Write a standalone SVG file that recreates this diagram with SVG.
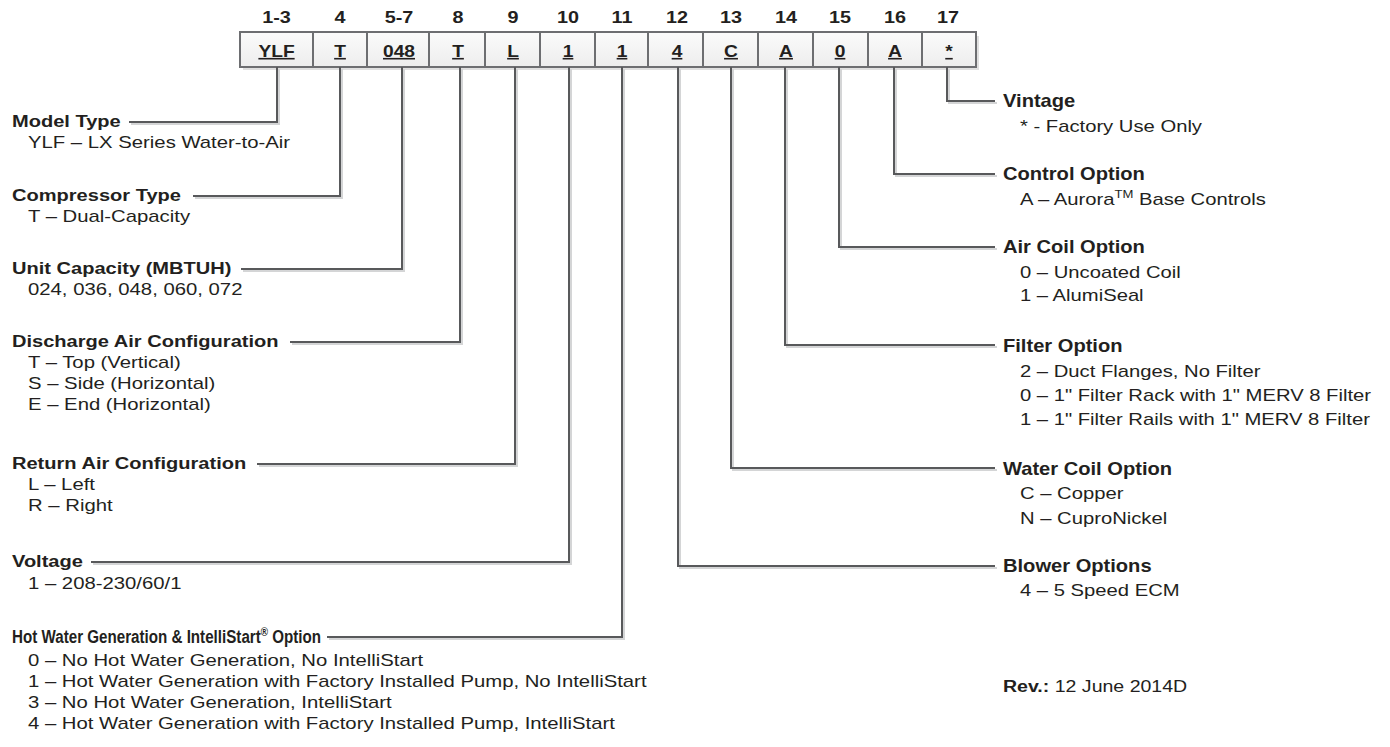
<svg xmlns="http://www.w3.org/2000/svg" width="1390" height="747" viewBox="0 0 1390 747">
<defs>
<linearGradient id="cellFill" x1="0" y1="0" x2="0" y2="1">
<stop offset="0" stop-color="#fbfbfb"/>
<stop offset="1" stop-color="#ededed"/>
</linearGradient>
<style>
text { fill: #231f20; font-family: "Liberation Sans", Arial, sans-serif; }
.hn { font-weight: bold; font-size: 16.5px; text-anchor: middle; }
.cv { font-weight: bold; font-size: 16px; text-anchor: middle; text-decoration: underline; }
.lh { font-weight: bold; font-size: 17px; }
.ld { font-size: 16px; }
.rh { font-weight: bold; font-size: 17.5px; }
.rd { font-size: 17px; }
.cell { fill: url(#cellFill); stroke: #6d6e71; stroke-width: 2; }
.conn { fill: none; stroke: #58595b; stroke-width: 2; }
.shadow { fill: none; stroke: #d4d5d6; stroke-width: 2; }
</style>
</defs>
<rect width="1390" height="747" fill="#ffffff"/>

<!-- box shadow -->
<rect x="243" y="36" width="736" height="34" fill="#e0e0e0"/>

<g id="cell-1-3"><rect class="cell" x="240" y="32" width="73" height="35"/><text class="hn" transform="translate(276.5 23) scale(1.2 1)">1-3</text><text class="cv" transform="translate(276.5 57) scale(1.2 1)">YLF</text></g>
<g id="cell-4"><rect class="cell" x="313" y="32" width="54" height="35"/><text class="hn" transform="translate(340 23) scale(1.2 1)">4</text><text class="cv" transform="translate(340 57) scale(1.2 1)">T</text></g>
<g id="cell-5-7"><rect class="cell" x="367" y="32" width="62" height="35"/><text class="hn" transform="translate(399 23) scale(1.2 1)">5-7</text><text class="cv" transform="translate(399 57) scale(1.2 1)">048</text></g>
<g id="cell-8"><rect class="cell" x="429" y="32" width="56" height="35"/><text class="hn" transform="translate(458 23) scale(1.2 1)">8</text><text class="cv" transform="translate(458 57) scale(1.2 1)">T</text></g>
<g id="cell-9"><rect class="cell" x="485" y="32" width="55" height="35"/><text class="hn" transform="translate(513 23) scale(1.2 1)">9</text><text class="cv" transform="translate(513 57) scale(1.2 1)">L</text></g>
<g id="cell-10"><rect class="cell" x="540" y="32" width="55" height="35"/><text class="hn" transform="translate(568 23) scale(1.2 1)">10</text><text class="cv" transform="translate(568 57) scale(1.2 1)">1</text></g>
<g id="cell-11"><rect class="cell" x="595" y="32" width="53" height="35"/><text class="hn" transform="translate(622 23) scale(1.2 1)">11</text><text class="cv" transform="translate(622 57) scale(1.2 1)">1</text></g>
<g id="cell-12"><rect class="cell" x="648" y="32" width="55" height="35"/><text class="hn" transform="translate(677 23) scale(1.2 1)">12</text><text class="cv" transform="translate(677 57) scale(1.2 1)">4</text></g>
<g id="cell-13"><rect class="cell" x="703" y="32" width="55" height="35"/><text class="hn" transform="translate(731 23) scale(1.2 1)">13</text><text class="cv" transform="translate(731 57) scale(1.2 1)">C</text></g>
<g id="cell-14"><rect class="cell" x="758" y="32" width="55" height="35"/><text class="hn" transform="translate(786 23) scale(1.2 1)">14</text><text class="cv" transform="translate(786 57) scale(1.2 1)">A</text></g>
<g id="cell-15"><rect class="cell" x="813" y="32" width="55" height="35"/><text class="hn" transform="translate(840 23) scale(1.2 1)">15</text><text class="cv" transform="translate(840 57) scale(1.2 1)">0</text></g>
<g id="cell-16"><rect class="cell" x="868" y="32" width="54" height="35"/><text class="hn" transform="translate(895 23) scale(1.2 1)">16</text><text class="cv" transform="translate(895 57) scale(1.2 1)">A</text></g>
<g id="cell-17"><rect class="cell" x="922" y="32" width="54" height="35"/><text class="hn" transform="translate(948 23) scale(1.2 1)">17</text><text class="cv" transform="translate(949 57) scale(1.2 1)">*</text></g>

<g id="connectors">
<g transform="translate(2 2)">
<path class="shadow" d="M277 67 V122 H129"/>
<path class="shadow" d="M340 67 V196 H193"/>
<path class="shadow" d="M402 67 V269 H241"/>
<path class="shadow" d="M460 67 V342 H290"/>
<path class="shadow" d="M515 67 V464 H257"/>
<path class="shadow" d="M569 67 V562 H91"/>
<path class="shadow" d="M622 67 V637 H327"/>
<path class="shadow" d="M678 67 V566 H995"/>
<path class="shadow" d="M731 67 V468 H995"/>
<path class="shadow" d="M785 67 V345 H995"/>
<path class="shadow" d="M839 67 V247 H995"/>
<path class="shadow" d="M894 67 V174 H995"/>
<path class="shadow" d="M947 67 V101 H995"/>
</g>
<path class="conn" d="M277 67 V122 H129"/>
<path class="conn" d="M340 67 V196 H193"/>
<path class="conn" d="M402 67 V269 H241"/>
<path class="conn" d="M460 67 V342 H290"/>
<path class="conn" d="M515 67 V464 H257"/>
<path class="conn" d="M569 67 V562 H91"/>
<path class="conn" d="M622 67 V637 H327"/>
<path class="conn" d="M678 67 V566 H995"/>
<path class="conn" d="M731 67 V468 H995"/>
<path class="conn" d="M785 67 V345 H995"/>
<path class="conn" d="M839 67 V247 H995"/>
<path class="conn" d="M894 67 V174 H995"/>
<path class="conn" d="M947 67 V101 H995"/>
</g>

<g id="legend-model-type">
<text class="lh" transform="translate(12 127) scale(1.18 1)">Model Type</text>
<text class="ld" transform="translate(28 148) scale(1.27 1)">YLF – LX Series Water-to-Air</text>
</g>
<g id="legend-compressor-type">
<text class="lh" transform="translate(12 201) scale(1.18 1)">Compressor Type</text>
<text class="ld" transform="translate(28 222) scale(1.27 1)">T – Dual-Capacity</text>
</g>
<g id="legend-unit-capacity">
<text class="lh" transform="translate(12 274) scale(1.18 1)">Unit Capacity (MBTUH)</text>
<text class="ld" transform="translate(28 295) scale(1.27 1)">024, 036, 048, 060, 072</text>
</g>
<g id="legend-discharge-air">
<text class="lh" transform="translate(12 347) scale(1.18 1)">Discharge Air Configuration</text>
<text class="ld" transform="translate(28 368) scale(1.27 1)">T – Top (Vertical)</text>
<text class="ld" transform="translate(28 389) scale(1.27 1)">S – Side (Horizontal)</text>
<text class="ld" transform="translate(28 410) scale(1.27 1)">E – End (Horizontal)</text>
</g>
<g id="legend-return-air">
<text class="lh" transform="translate(12 469) scale(1.18 1)">Return Air Configuration</text>
<text class="ld" transform="translate(28 490) scale(1.27 1)">L – Left</text>
<text class="ld" transform="translate(28 511) scale(1.27 1)">R – Right</text>
</g>
<g id="legend-voltage">
<text class="lh" transform="translate(12 567) scale(1.18 1)">Voltage</text>
<text class="ld" transform="translate(28 589) scale(1.27 1)">1 – 208-230/60/1</text>
</g>
<g id="legend-hot-water">
<text class="lh" style="font-size:18.5px" transform="translate(12 643) scale(0.82 1)">Hot Water Generation &amp; IntelliStart<tspan font-size="12" dy="-7">®</tspan><tspan dy="7"> Option</tspan></text>
<text class="ld" transform="translate(28 666) scale(1.27 1)">0 – No Hot Water Generation, No IntelliStart</text>
<text class="ld" transform="translate(28 687) scale(1.27 1)">1 – Hot Water Generation with Factory Installed Pump, No IntelliStart</text>
<text class="ld" transform="translate(28 708) scale(1.27 1)">3 – No Hot Water Generation, IntelliStart</text>
<text class="ld" transform="translate(28 729) scale(1.27 1)">4 – Hot Water Generation with Factory Installed Pump, IntelliStart</text>
</g>

<g id="legend-vintage">
<text class="rh" transform="translate(1003 107) scale(1.15 1)">Vintage</text>
<text class="rd" transform="translate(1020 132) scale(1.19 1)">* - Factory Use Only</text>
</g>
<g id="legend-control-option">
<text class="rh" transform="translate(1003 180) scale(1.15 1)">Control Option</text>
<text class="rd" transform="translate(1020 205) scale(1.19 1)">A – Aurora<tspan font-size="11" dy="-7">TM</tspan><tspan dy="7"> Base Controls</tspan></text>
</g>
<g id="legend-air-coil">
<text class="rh" transform="translate(1003 253) scale(1.15 1)">Air Coil Option</text>
<text class="rd" transform="translate(1020 278) scale(1.19 1)">0 – Uncoated Coil</text>
<text class="rd" transform="translate(1020 301) scale(1.19 1)">1 – AlumiSeal</text>
</g>
<g id="legend-filter">
<text class="rh" transform="translate(1003 352) scale(1.15 1)">Filter Option</text>
<text class="rd" transform="translate(1020 377) scale(1.19 1)">2 – Duct Flanges, No Filter</text>
<text class="rd" transform="translate(1020 401) scale(1.19 1)">0 – 1" Filter Rack with 1" MERV 8 Filter</text>
<text class="rd" transform="translate(1020 425) scale(1.19 1)">1 – 1" Filter Rails with 1" MERV 8 Filter</text>
</g>
<g id="legend-water-coil">
<text class="rh" transform="translate(1003 475) scale(1.15 1)">Water Coil Option</text>
<text class="rd" transform="translate(1020 499) scale(1.19 1)">C – Copper</text>
<text class="rd" transform="translate(1020 524) scale(1.19 1)">N – CuproNickel</text>
</g>
<g id="legend-blower">
<text class="rh" transform="translate(1003 572) scale(1.15 1)">Blower Options</text>
<text class="rd" transform="translate(1020 596) scale(1.19 1)">4 – 5 Speed ECM</text>
</g>
<g id="revision">
<text class="rd" transform="translate(1003 692) scale(1.15 1)"><tspan font-weight="bold">Rev.:</tspan> 12 June 2014D</text>
</g>
</svg>
